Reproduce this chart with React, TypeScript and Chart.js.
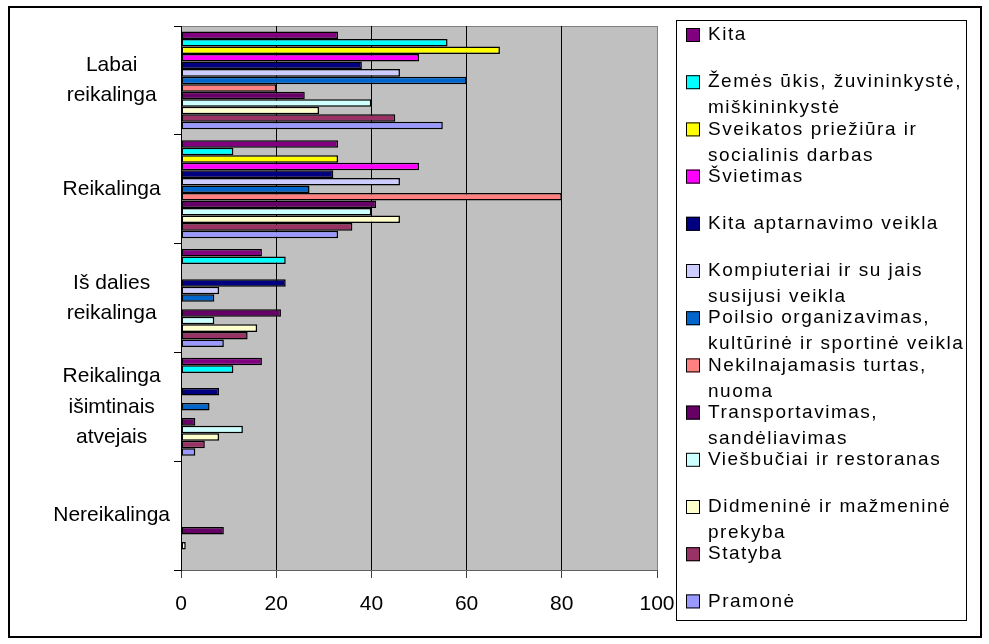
import React, { useEffect, useRef } from "react";
import { Chart, registerables } from "chart.js";
Chart.register(...registerables);

const categories: string[][] = [
  ["Labai", "reikalinga"],
  ["Reikalinga"],
  ["Iš dalies", "reikalinga"],
  ["Reikalinga", "išimtinais", "atvejais"],
  ["Nereikalinga"],
];

const xTicks = [0, 20, 40, 60, 80, 100];

const seriesNames: string[][] = [
  ["Kita"],
  ["Žemės ūkis, žuvininkystė,", "miškininkystė"],
  ["Sveikatos priežiūra ir", "socialinis darbas"],
  ["Švietimas"],
  ["Kita aptarnavimo veikla"],
  ["Kompiuteriai ir su jais", "susijusi veikla"],
  ["Poilsio organizavimas,", "kultūrinė ir sportinė veikla"],
  ["Nekilnajamasis turtas,", "nuoma"],
  ["Transportavimas,", "sandėliavimas"],
  ["Viešbučiai ir restoranas"],
  ["Didmeninė ir mažmeninė", "prekyba"],
  ["Statyba"],
  ["Pramonė"],
];

const seriesColors = [
  "#800080", "#00FFFF", "#FFFF00", "#FF00FF", "#000080", "#CCCCFF", "#0066CC",
  "#FF8080", "#660066", "#CCFFFF", "#FFFFCC", "#993366", "#9999FF",
];

const kita = [33, 33, 17, 17, 0];
const zemesUkis = [56, 11, 22, 11, 0];
const sveikatos = [67, 33, 0, 0, 0];
const svietimas = [50, 50, 0, 0, 0];
const kitaAptarnavimo = [38, 32, 22, 8, 0];
const kompiuteriai = [46, 46, 8, 0, 0];
const poilsio = [60, 27, 7, 6, 0];
const nekilnojamasis = [20, 80, 0, 0, 0];
const transportavimas = [26, 41, 21, 3, 9];
const viesbuciai = [40, 40, 7, 13, 0];
const didmenine = [29, 46, 16, 8, 1];
const statyba = [45, 36, 14, 5, 0];
const pramone = [55, 33, 9, 3, 0];

const seriesValues = [
  kita, zemesUkis, sveikatos, svietimas, kitaAptarnavimo, kompiuteriai, poilsio,
  nekilnojamasis, transportavimas, viesbuciai, didmenine, statyba, pramone,
];

const FONT = "'Liberation Sans', Arial, sans-serif";

const bgPlugin = {
  id: "bg",
  beforeDraw(chart: any) {
    const { ctx, chartArea: a } = chart;
    ctx.save();
    ctx.fillStyle = "#fff";
    ctx.fillRect(0, 0, chart.width, chart.height);
    ctx.strokeStyle = "#000";
    ctx.lineWidth = 2;
    ctx.strokeRect(9, 7, 972, 630);
    ctx.fillStyle = "#C0C0C0";
    ctx.fillRect(a.left, a.top, a.right - a.left, a.bottom - a.top);
    ctx.strokeStyle = "#808080";
    ctx.lineWidth = 1;
    ctx.strokeRect(a.left + 0.5, a.top + 0.5, a.right - a.left, a.bottom - a.top);
    ctx.restore();
  },
};

const legendPlugin = {
  id: "customLegend",
  afterDraw(chart: any) {
    const ctx = chart.ctx;
    const bx = 676, by = 20, bw = 290, bh = 600;
    ctx.save();
    ctx.fillStyle = "#fff";
    ctx.fillRect(bx, by, bw, bh);
    ctx.strokeStyle = "#000";
    ctx.lineWidth = 1;
    ctx.strokeRect(bx + 0.5, by + 0.5, bw, bh);
    ctx.font = "19px " + FONT;
    (ctx as any).letterSpacing = "1.5px";
    ctx.textBaseline = "middle";
    ctx.textAlign = "left";
    seriesNames.forEach((lines, k) => {
      const y = by + 15 + 47.2 * k;
      ctx.fillStyle = seriesColors[k];
      ctx.fillRect(686, y - 7, 14, 14);
      ctx.strokeStyle = "#000";
      ctx.strokeRect(686.5, y - 6.5, 13, 13);
      ctx.fillStyle = "#000";
      lines.forEach((t, j) => ctx.fillText(t, 708, y + 26 * j));
    });
    (ctx as any).letterSpacing = "0px";
    ctx.restore();
  },
};

export default function App() {
  const ref = useRef<HTMLCanvasElement>(null);
  useEffect(() => {
    document.body.style.margin = "0";
    const canvas = ref.current!;
    const chart = new Chart(canvas, {
      type: "bar",
      data: {
        labels: categories as any,
        datasets: seriesValues.map((v, i) => ({
          label: seriesNames[i].join(" "),
          data: v,
          backgroundColor: seriesColors[i],
          borderColor: "#000",
          borderWidth: 1.5,
          borderSkipped: false,
          categoryPercentage: 0.9,
          barPercentage: 1,
        })),
      },
      options: {
        indexAxis: "y",
        responsive: false,
        animation: false,
        layout: { padding: { top: 26, right: 332, bottom: 0, left: 0 } },
        plugins: { legend: { display: false }, tooltip: { enabled: false } },
        scales: {
          x: {
            min: 0,
            max: 100,
            afterBuildTicks: (s: any) => {
              s.ticks = xTicks.map((v) => ({ value: v }));
            },
            afterFit: (s: any) => {
              s.height = 74;
            },
            ticks: {
              color: "#000",
              font: { family: FONT, size: 21 },
              padding: 14,
              maxRotation: 0,
            },
            grid: {
              color: (c: any) => (c.tick && c.tick.value === 100 ? "#808080" : "#000"),
              tickColor: "#404040",
              tickLength: 8,
              lineWidth: 1,
            },
            border: { color: "#606060", width: 1 },
          },
          y: {
            afterFit: (s: any) => {
              s.width = 181;
            },
            ticks: {
              color: "#000",
              font: { family: FONT, size: 21, lineHeight: 1.45 },
              crossAlign: "center",
              padding: 4,
            },
            grid: { drawOnChartArea: false, tickLength: 7, color: "#000" },
            border: { color: "#000", width: 1 },
          },
        },
      } as any,
      plugins: [bgPlugin, legendPlugin],
    });
    return () => chart.destroy();
  }, []);
  return (
    <div style={{ position: "absolute", left: 0, top: 0, width: 989, height: 644 }}>
      <canvas ref={ref} width={989} height={644} style={{ display: "block" }} />
    </div>
  );
}
